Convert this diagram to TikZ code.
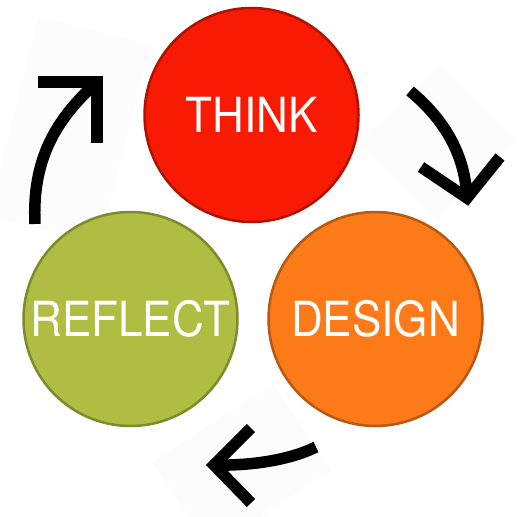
\documentclass[tikz,border=0pt]{standalone}
\usepackage{fontspec}
\setmainfont{TeX Gyre Heros}
\definecolor{thinkfill}{HTML}{F81A02}
\definecolor{thinkedge}{HTML}{B01200}
\definecolor{reflectfill}{HTML}{AFBE43}
\definecolor{reflectedge}{HTML}{7C8B2C}
\definecolor{designfill}{HTML}{FC7A18}
\definecolor{designedge}{HTML}{B85812}
\definecolor{backdropgray}{HTML}{FCFCFC}
\begin{document}
\begin{tikzpicture}[x=1pt,y=-1pt,
  disc/.style={circle,inner sep=0pt,minimum size=214pt,line width=2.5pt,text=white,
    font=\fontsize{44}{44}\selectfont},
  shaft/.style={line width=11.5pt,line cap=butt},
  chevron/.style={line width=11.5pt,line cap=butt,line join=miter},
  backdrop/.style={fill=backdropgray,draw=none}]
\useasboundingbox (0,0) rectangle (524,516);
% faint image backdrops
\fill[backdrop] (38,17) -- (150,45) -- (100,244) -- (-12,216) -- cycle;
\fill[backdrop] (437,62) -- (518,141) -- (439,222) -- (358,143) -- cycle;
\fill[backdrop] (273,383) -- (332,470) -- (211,549) -- (152,462) -- cycle;
% circles
\node[disc,fill=thinkfill,draw=thinkedge] (think) at (251.5,115) {\scalebox{1}[1.1]{THINK}};
\node[disc,fill=reflectfill,draw=reflectedge] (reflect) at (130.5,319) {\scalebox{1}[1.1]{REFLECT}};
\node[disc,fill=designfill,draw=designedge] (design) at (375.5,319) {\scalebox{1}[1.1]{DESIGN}};
% arrow reflect -> think
\coordinate (a1s) at (35,224);
\coordinate (a1t) at (97,82);
\draw[shaft] (a1s) .. controls (32,160) and (55,120) .. (a1t);
\draw[chevron] (38,82) -- (a1t) -- (97,143);
% arrow think -> design
\coordinate (a2s) at (410,91);
\coordinate (a2t) at (467,198);
\draw[shaft] (a2s) .. controls (445,120) and (465,155) .. (a2t);
\draw[chevron] (421,167) -- (a2t) -- (500,157);
% arrow design -> reflect
\coordinate (a3s) at (316,447);
\coordinate (a3t) at (214,465);
\draw[shaft] (a3s) .. controls (290,460) and (250,466) .. (a3t);
\draw[chevron] (251,428) -- (a3t) -- (251,503);
\end{tikzpicture}
\end{document}
